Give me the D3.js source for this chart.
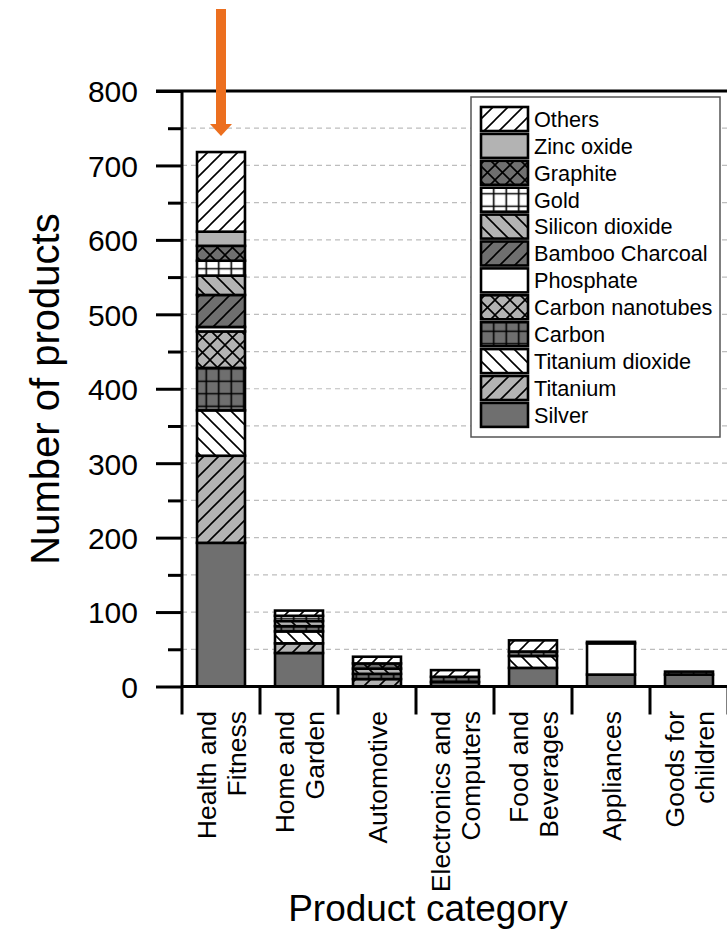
<!DOCTYPE html>
<html><head><meta charset="utf-8">
<script src="https://cdn.jsdelivr.net/npm/d3@7"></script>
<style>body{margin:0;background:#fff;} svg{display:block;font-family:"Liberation Sans",Arial,sans-serif;}</style>
</head><body>
<script>
const categories = ["Health and Fitness","Home and Garden","Automotive","Electronics and Computers","Food and Beverages","Appliances","Goods for children"];
const categoryLines = [["Health and","Fitness"],["Home and","Garden"],["Automotive"],["Electronics and","Computers"],["Food and","Beverages"],["Appliances"],["Goods for","children"]];
const materials = ["Silver","Titanium","Titanium dioxide","Carbon","Carbon nanotubes","Phosphate","Bamboo Charcoal","Silicon dioxide","Gold","Graphite","Zinc oxide","Others"];
const silver          = [193, 45,  0, 6, 25, 16, 16];
const titanium        = [117, 13, 10, 0,  0,  0,  0];
const titaniumDioxide = [ 61, 16,  0, 0, 16,  0,  0];
const carbon          = [ 57,  7,  7, 7,  6,  0,  4];
const carbonNanotubes = [ 49,  0,  0, 0,  0,  0,  0];
const phosphate       = [  6,  0,  0, 0,  0, 42,  0];
const bambooCharcoal  = [ 43,  0,  0, 0,  0,  0,  0];
const siliconDioxide  = [ 26,  7,  7, 0,  0,  0,  0];
const gold            = [ 20,  7,  0, 0,  0,  0,  0];
const graphite        = [ 20,  0,  7, 0,  0,  0,  0];
const zincOxide       = [ 19,  0,  0, 0,  0,  0,  0];
const others          = [107,  7,  9, 9, 15,  2,  0];
const yTicks = [0,100,200,300,400,500,600,700,800];
const seriesValues = [silver,titanium,titaniumDioxide,carbon,carbonNanotubes,phosphate,bambooCharcoal,siliconDioxide,gold,graphite,zincOxide,others];

// styles: [background, pattern]
const DARK="#6f6f6f", LIGHT="#b3b3b3", WHITE="#ffffff";
const styles = {
  "Silver":[DARK,"none"], "Titanium":[LIGHT,"slash"], "Titanium dioxide":[WHITE,"back"],
  "Carbon":[DARK,"grid"], "Carbon nanotubes":[LIGHT,"cross"], "Phosphate":[WHITE,"none"],
  "Bamboo Charcoal":[DARK,"slash"], "Silicon dioxide":[LIGHT,"back"], "Gold":[WHITE,"grid"],
  "Graphite":[DARK,"cross"], "Zinc oxide":[LIGHT,"none"], "Others":[WHITE,"slash"]
};

const W=727,H=929;
const svg=d3.select("body").append("svg").attr("width",W).attr("height",H);
const defs=svg.append("defs");
function fillFor(m){
  const [bg,p]=styles[m];
  if(p==="none") return bg;
  const id="pat"+m.replace(/\s+/g,"");
  const s = p==="grid"?12.5:15;
  const pat=defs.append("pattern").attr("id",id).attr("patternUnits","userSpaceOnUse").attr("width",s).attr("height",s);
  pat.append("rect").attr("width",s).attr("height",s).attr("fill",bg);
  let d="";
  if(p==="slash") d=`M0,${s} L${s},0 M${-s/2},${s/2} L${s/2},${-s/2} M${s/2},${s*1.5} L${s*1.5},${s/2}`;
  if(p==="back") d=`M0,0 L${s},${s} M${-s/2},${s/2} L${s/2},${s*1.5} M${s/2},${-s/2} L${s*1.5},${s/2}`;
  if(p==="cross") d=`M0,${s} L${s},0 M0,0 L${s},${s}`;
  if(p==="grid") d=`M${s/2},0 L${s/2},${s} M0,${s/2} L${s},${s/2}`;
  pat.append("path").attr("d",d).attr("stroke","#000").attr("stroke-width",1.6).attr("fill","none");
  return `url(#${id})`;
}
const fills={}; materials.forEach(m=>fills[m]=fillFor(m));

const x=d3.scaleBand().domain(categories).range([182,728]).paddingInner(0.385).paddingOuter(0.1925);
const y=d3.scaleLinear().domain([0,800]).range([686.5,91]);

// gridlines
const gridVals=d3.range(50,800,50);
svg.append("g").selectAll("line").data(gridVals).join("line")
  .attr("x1",182).attr("x2",W).attr("y1",d=>y(d)).attr("y2",d=>y(d))
  .attr("stroke","#bdbdbd").attr("stroke-width",1.2).attr("stroke-dasharray","5,4");

// stack
const table=categories.map((c,i)=>{const o={cat:c}; materials.forEach((m,j)=>o[m]=seriesValues[j][i]); return o;});
const stacked=d3.stack().keys(materials)(table);
const bars=svg.append("g");
stacked.forEach(layer=>{
  bars.append("g").selectAll("rect").data(layer.filter(d=>d[1]-d[0]>0)).join("rect")
    .attr("x",d=>x(d.data.cat)).attr("width",x.bandwidth())
    .attr("y",d=>y(d[1])).attr("height",d=>y(d[0])-y(d[1]))
    .attr("fill",fills[layer.key]).attr("stroke","#000").attr("stroke-width",2.6);
});

// axes
const yAxis=svg.append("g").attr("transform","translate(182,0)")
  .call(d3.axisLeft(y).tickValues(yTicks).tickSize(26).tickPadding(18).tickFormat(d3.format("d")));
yAxis.select(".domain").remove();
yAxis.selectAll(".tick line").attr("stroke","#000").attr("stroke-width",3);
yAxis.selectAll(".tick text").attr("font-size",30).attr("fill","#000").attr("font-family","Liberation Sans, Arial, sans-serif").attr("dy","0.36em");
const yMinor=svg.append("g").attr("transform","translate(182,0)")
  .call(d3.axisLeft(y).tickValues(d3.range(50,800,100)).tickSize(14).tickFormat(""));
yMinor.select(".domain").remove();
yMinor.selectAll(".tick line").attr("stroke","#000").attr("stroke-width",3);

svg.append("line").attr("x1",182).attr("x2",182).attr("y1",y(800)).attr("y2",y(0)).attr("stroke","#000").attr("stroke-width",3);
svg.append("line").attr("x1",156).attr("x2",W).attr("y1",y(800)).attr("y2",y(800)).attr("stroke","#000").attr("stroke-width",3);
svg.append("line").attr("x1",182).attr("x2",W).attr("y1",y(0)).attr("y2",y(0)).attr("stroke","#000").attr("stroke-width",3);

// x boundary ticks
const step=x.step(), off=(step-x.bandwidth())/2;
const bounds=categories.map(c=>x(c)-off).concat([x(categories[categories.length-1])+x.bandwidth()+off]);
svg.append("g").selectAll("line").data(bounds).join("line")
  .attr("x1",d=>d).attr("x2",d=>d).attr("y1",y(0)).attr("y2",y(0)+28)
  .attr("stroke","#000").attr("stroke-width",3);

// x labels
const xl=svg.append("g");
categories.forEach((c,i)=>{
  const lines=categoryLines[i];
  const cx=x(c)+x.bandwidth()/2;
  lines.forEach((t,k)=>{
    const dx = lines.length===1?0:(k===0?-15:15);
    xl.append("text").attr("transform",`translate(${cx+dx+9.5},711) rotate(-90)`)
      .attr("text-anchor","end").attr("font-size",26.5).attr("fill","#000").text(t);
  });
});

// titles
svg.append("text").attr("x",428).attr("y",921).attr("text-anchor","middle").attr("font-size",37).text("Product category");
svg.append("text").attr("transform","translate(59,389) rotate(-90)").attr("text-anchor","middle").attr("font-size",40).text("Number of products");

// legend
const lg=svg.append("g");
lg.append("rect").attr("x",471).attr("y",97).attr("width",249).attr("height",340).attr("fill","#fff").attr("stroke","#555").attr("stroke-width",1.5);
const legendItems=materials.slice().reverse();
const ly=d3.scaleBand().domain(legendItems).range([106,106+12*26.9]);
legendItems.forEach(m=>{
  const yy=ly(m);
  lg.append("rect").attr("x",481).attr("y",yy+1).attr("width",47).attr("height",24).attr("fill",fills[m]).attr("stroke","#000").attr("stroke-width",2.6);
  lg.append("text").attr("x",534).attr("y",yy+13).attr("dy","0.36em").attr("font-size",21.7).text(m);
});

// orange arrow
const hfx=x(categories[0])+x.bandwidth()/2;
svg.append("rect").attr("x",hfx-5).attr("y",9).attr("width",10).attr("height",118).attr("fill","#ec6f1f");
svg.append("path").attr("d",`M${hfx-11},124 L${hfx+11},124 L${hfx},136 Z`).attr("fill","#ec6f1f");
</script>
</body></html>
